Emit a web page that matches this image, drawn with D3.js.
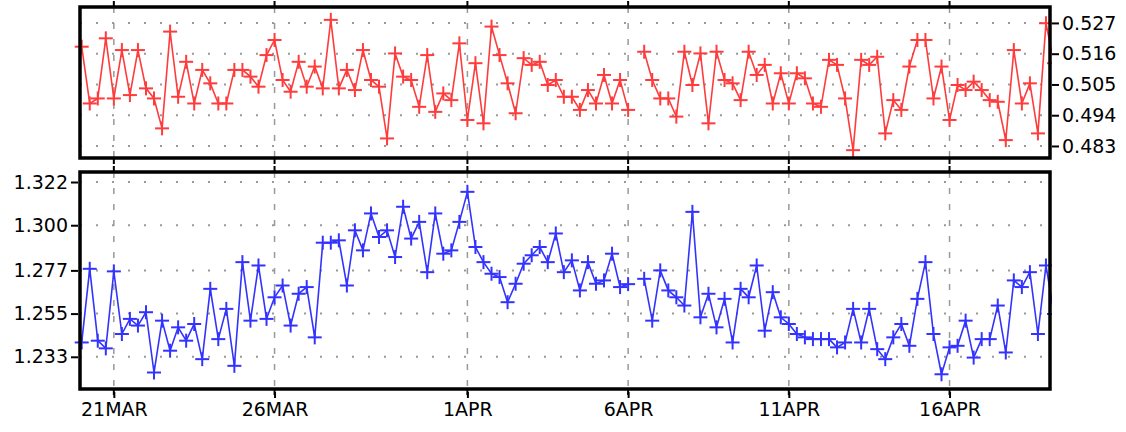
<!DOCTYPE html>
<html><head><meta charset="utf-8">
<script src="https://cdn.jsdelivr.net/npm/d3@7"></script>
<style>body{margin:0;background:#fff}svg{display:block}text{font-family:"DejaVu Sans",sans-serif}</style>
</head><body><svg id="c" width="1126" height="432"></svg>
<script>
const startDate = "2020-03-20T00:00:00Z";
const stepHours = 6;
const tickDates = ["2020-03-21","2020-03-26","2020-04-01","2020-04-06","2020-04-11","2020-04-16"];
const tickLabels = ["21MAR","26MAR","1APR","6APR","11APR","16APR"];
const topTicks = [0.527,0.516,0.505,0.494,0.483];
const bottomTicks = [1.322,1.300,1.277,1.255,1.233];
const topSeries = [0.5185,0.4982,0.5000,0.5215,0.5000,0.5173,0.5012,0.5173,0.5036,0.5000,0.4893,0.5239,0.5006,0.5131,0.4982,0.5102,0.5054,0.4982,0.4982,0.5102,0.5102,0.5078,0.5042,0.5155,0.5209,0.5066,0.5024,0.5131,0.5042,0.5114,0.5036,0.5281,0.5036,0.5102,0.5030,0.5173,0.5066,0.5042,0.4857,0.5161,0.5078,0.5066,
0.4970,0.5155,0.4952,0.5018,0.4994,0.5197,0.4923,0.5126,0.4911,0.5257,0.5155,0.5054,0.4947,0.5144,0.5120,0.5131,0.5048,0.5066,0.5006,0.5006,0.4959,0.5030,0.4982,0.5084,0.4982,0.5066,0.4959,null,
0.5167,0.5066,0.5000,0.5000,0.4935,0.5167,0.5048,0.5161,0.4911,0.5167,0.5066,0.5054,
0.4994,0.5167,0.5084,0.5120,0.4982,0.5090,0.4982,0.5090,0.5072,0.4982,0.4970,0.5138,0.5120,0.5000,0.4815,0.5138,0.5120,0.5149,0.4875,0.4994,0.4959,0.5114,0.5209,0.5209,0.5000,0.5114,0.4923,0.5048,0.5030,0.5060,0.5030,0.4994,0.4988,0.4851,0.5173,0.4982,0.5054,0.4875,0.5269,0.5126];
const bottomSeries = [1.2403,1.2778,1.2412,1.2373,1.2765,1.2446,1.2523,1.2489,1.2557,1.2250,1.2514,1.2361,1.2480,1.2412,1.2497,1.2318,1.2676,1.2420,1.2574,1.2284,1.2812,1.2514,1.2795,1.2523,1.2633,1.2693,1.2489,1.2651,1.2685,1.2429,1.2911,1.2911,1.2923,1.2693,1.2974,1.2872,1.3060,1.2940,1.2974,1.2838,1.3094,1.2932,
1.3017,1.2761,1.3060,1.2855,1.2872,1.3017,1.3170,1.2889,1.2812,1.2753,1.2736,1.2608,1.2702,1.2804,1.2847,1.2889,1.2812,1.2958,1.2761,1.2821,1.2668,1.2812,1.2702,1.2719,1.2855,1.2685,1.2700,null,
1.2727,1.2514,1.2770,1.2668,1.2633,1.2591,1.3068,1.2531,1.2651,1.2480,1.2625,1.2403,1.2676,1.2633,1.2795,
1.2463,1.2659,1.2531,1.2497,1.2446,1.2429,1.2420,1.2420,1.2420,1.2378,1.2403,1.2574,1.2403,1.2574,1.2369,1.2318,1.2429,1.2497,1.2386,1.2625,1.2812,1.2446,1.2241,1.2378,1.2386,1.2514,1.2326,1.2420,1.2420,1.2591,1.2352,1.2719,1.2685,1.2761,1.2446,1.2795,1.2548];

const svg = d3.select("#c");
const t0 = new Date(startDate);
const tAt = i => new Date(t0.getTime() + i*stepHours*3600e3);
const x = d3.scaleUtc().domain([t0, tAt(topSeries.length-1)]).range([81.7, 1054]);
const L = 80, R = 1050;
const panels = [
 {data: topSeries, y: d3.scaleLinear().domain([0.4787,0.5327]).range([158,7]), ticks: topTicks, fmt: d3.format(".3f"), color:"#ff3b3b", side:"right", top:7, bot:158},
 {data: bottomSeries, y: d3.scaleLinear().domain([1.2166,1.3271]).range([389,172]), ticks: bottomTicks, fmt: d3.format(".3f"), color:"#3333ff", side:"left", top:172, bot:389}
];
const tickD = tickDates.map(s => new Date(s+"T00:00:00Z"));
svg.append("defs").append("clipPath").attr("id","cp").append("rect").attr("x",0).attr("y",0).attr("width",1052).attr("height",432);
panels.forEach(p => {
  const g = svg.append("g");
  g.selectAll(".hg").data(p.ticks).join("line").attr("x1",L).attr("x2",R)
   .attr("y1",d=>p.y(d)).attr("y2",d=>p.y(d)).attr("stroke","#999").attr("stroke-width",2).attr("stroke-dasharray","2,14");
  g.selectAll(".vg").data(tickD).join("line").attr("x1",d=>x(d)).attr("x2",d=>x(d))
   .attr("y1",p.top).attr("y2",p.bot).attr("stroke","#999").attr("stroke-width",1.5).attr("stroke-dasharray","6,10");
  const pts = p.data.map((v,i)=>({t:tAt(i), v}));
  const dg = g.append("g").attr("clip-path","url(#cp)");
  dg.append("path").datum(pts).attr("fill","none").attr("stroke",p.color).attr("stroke-width",1.6)
   .attr("d", d3.line().defined(d=>d.v!==null).x(d=>x(d.t)).y(d=>p.y(d.v)));
  const m = dg.selectAll(".m").data(pts.filter(d=>d.v!==null)).join("g")
   .attr("transform",d=>`translate(${x(d.t)},${p.y(d.v)})`);
  m.append("line").attr("x1",-7).attr("x2",7).attr("stroke",p.color).attr("stroke-width",2);
  m.append("line").attr("y1",-7).attr("y2",7).attr("stroke",p.color).attr("stroke-width",2);
  g.append("rect").attr("x",L).attr("y",p.top).attr("width",R-L).attr("height",p.bot-p.top)
   .attr("fill","none").attr("stroke","#000").attr("stroke-width",3.5);
  const ax = p.side==="right" ? d3.axisRight(p.y).tickSize(7) : d3.axisLeft(p.y).tickSize(7);
  const ag = g.append("g").attr("transform",`translate(${p.side==="right"?R+2:L-2},0)`)
   .call(ax.tickValues(p.ticks).tickFormat(p.fmt).tickPadding(3));
  ag.select(".domain").remove();
  ag.selectAll("line").attr("stroke-width",2);
  ag.selectAll("text").attr("font-size",19).attr("fill","#000");
  g.selectAll(".xt").data(tickD).join("line").attr("x1",d=>x(d)).attr("x2",d=>x(d))
   .attr("y1",p.top-6).attr("y2",p.bot+6).attr("stroke","#000").attr("stroke-width",2)
   .attr("stroke-dasharray",`6,${p.bot-p.top}`);
});
const xa = svg.append("g").attr("transform","translate(0,392)")
  .call(d3.axisBottom(x).tickValues(tickD).tickSize(6).tickFormat((d,i)=>tickLabels[i]).tickPadding(5));
xa.select(".domain").remove();
xa.selectAll("line").attr("stroke-width",2);
xa.selectAll("text").attr("font-size",19).attr("fill","#000");
</script></body></html>
